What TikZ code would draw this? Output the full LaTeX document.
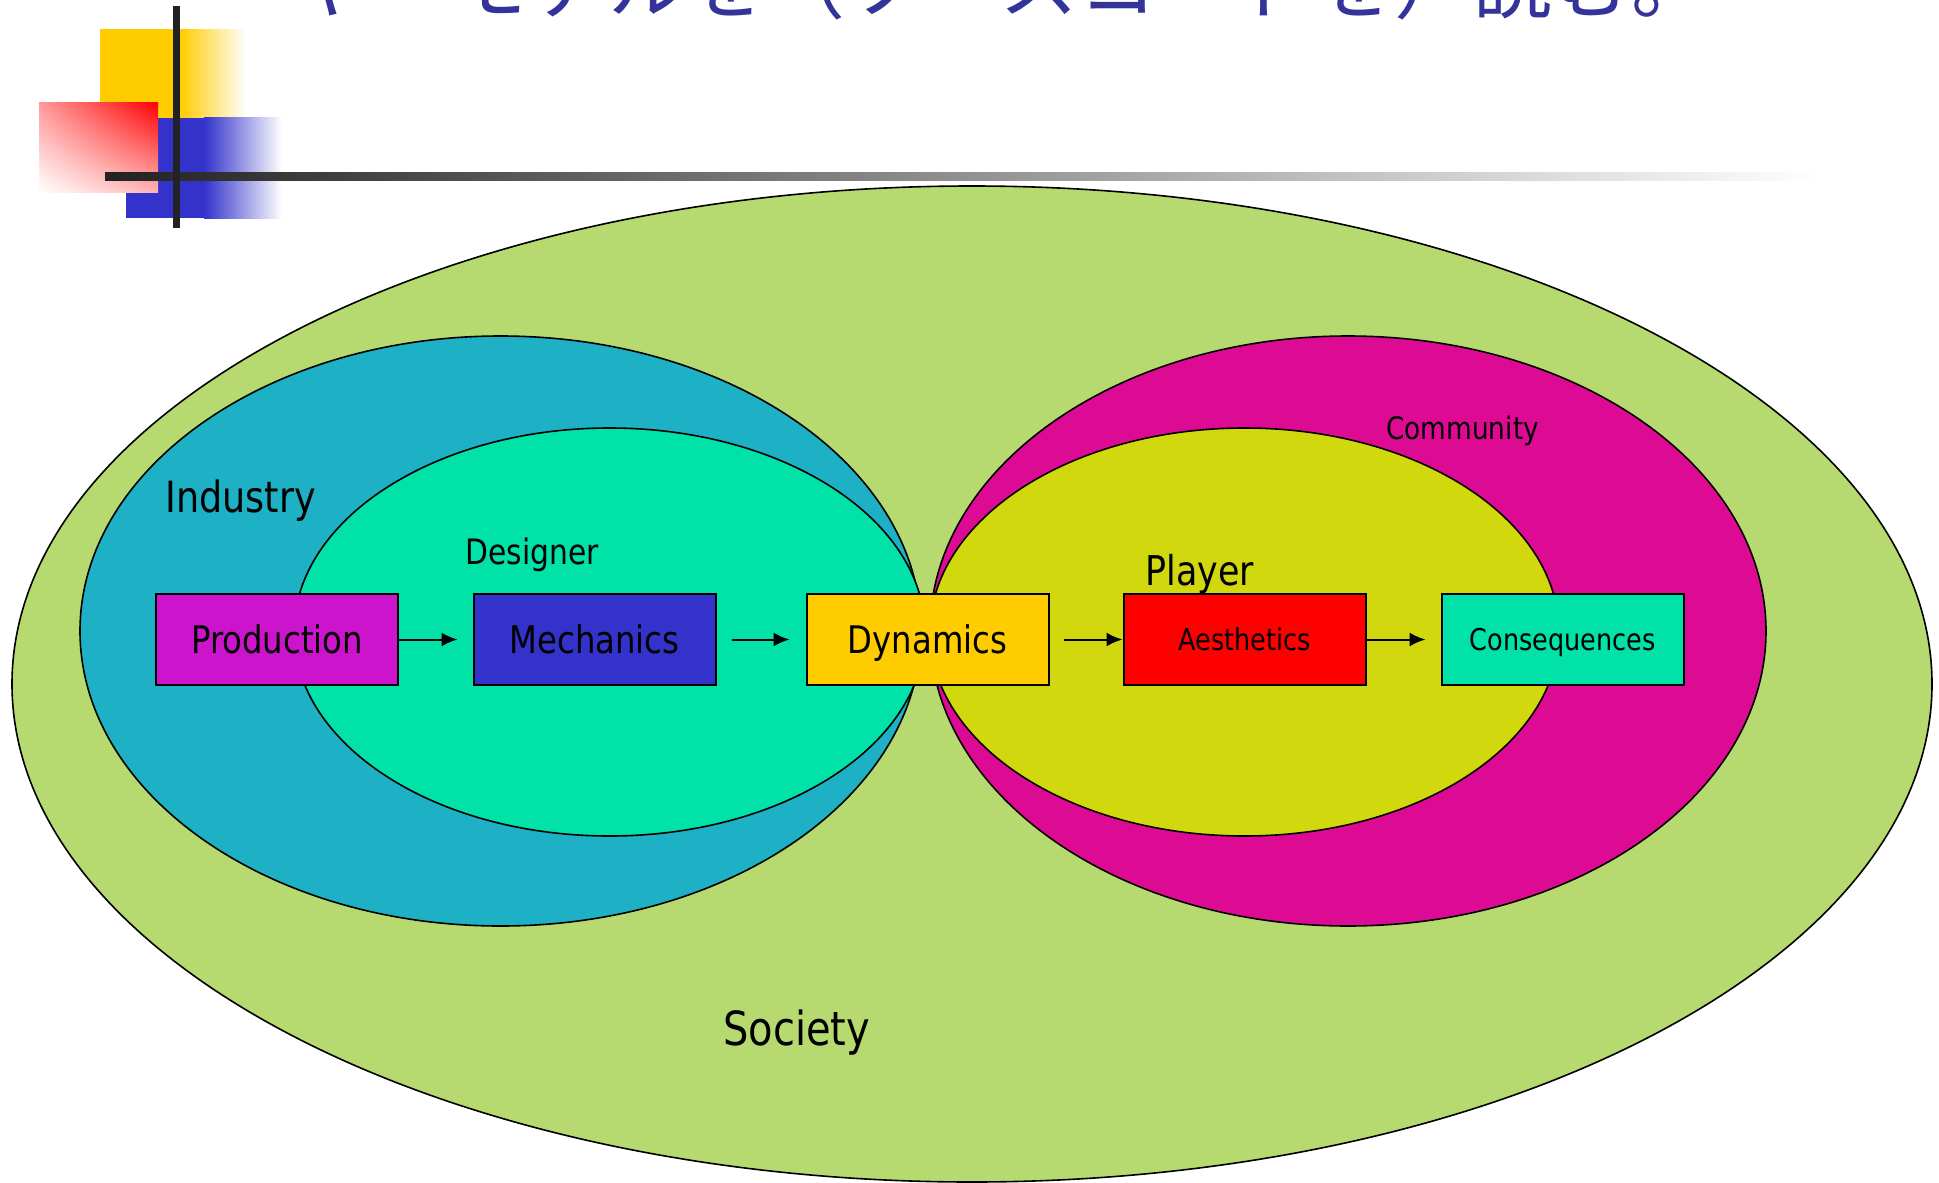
\documentclass[tikz,border=0pt]{standalone}
\usepackage{fontspec}
\setmainfont{DejaVu Sans}[FakeStretch=0.85]
\newfontfamily\jpfont{Noto Sans CJK JP}
\usetikzlibrary{arrows.meta,shadings}
\definecolor{society}{HTML}{B6DA70}
\definecolor{industry}{HTML}{1EB0C5}
\definecolor{designer}{HTML}{00E2A8}
\definecolor{community}{HTML}{DD0A93}
\definecolor{player}{HTML}{D2D80E}
\definecolor{prodc}{HTML}{CC14CC}
\definecolor{mechc}{HTML}{3333CC}
\definecolor{dync}{HTML}{FFCC00}
\definecolor{aesc}{HTML}{FF0000}
\definecolor{titlec}{HTML}{333399}
\definecolor{barc}{HTML}{222222}
\begin{document}
\begin{tikzpicture}[x=0.5pt,y=-0.5pt,
  ring/.style={draw=black,line width=0.8pt},
  mdabox/.style={draw=black,line width=1pt,minimum width=121pt,minimum height=45.5pt,inner sep=0pt,text depth=0pt},
  bigtxt/.style={font=\fontsize{19pt}{19pt}\selectfont,text height=13.85pt},
  smalltxt/.style={font=\fontsize{15pt}{15pt}\selectfont,text height=10.9pt},
  lbl/.style={inner sep=0pt,anchor=base west},
  arr/.style={line width=1pt,-{Latex[length=8pt,width=7pt]}}]
\useasboundingbox (0,0) rectangle (1939,1183);
\fill[white] (0,0) rectangle (1939,1183);
\begin{scope}
\clip (0,0) rectangle (1939,1183);
% title (cut off at top)
\node[lbl,text=titlec,font=\jpfont\fontsize{39.5pt}{40pt}\selectfont] (title) at (292,12) {ヤーモデルを（ソースコードを）読む。};
% decoration
\fill[dync] (100,29) rectangle (181,118);
\shade[left color=dync,right color=white] (180,29) rectangle (246,118);
\fill[mechc] (126,118) rectangle (205,218);
\shade[left color=mechc,right color=white] (204,117) rectangle (282,218);
\shade[upper left=red!40!white,upper right=red,lower left=white,lower right=red!30!white] (39,102) rectangle (158,192);
\shade[left color=barc,right color=white] (105,172) rectangle (1820,180);
\fill[barc] (173,6) rectangle (180,228);
% ellipses
\path[ring,fill=society] (972,684) ellipse [x radius=480pt,y radius=249pt];
\path[ring,fill=industry] (500.5,631) ellipse [x radius=210.25pt,y radius=147.5pt];
\path[ring,fill=designer] (609.5,632) ellipse [x radius=157.75pt,y radius=102pt];
\path[ring,fill=community] (1348,631) ellipse [x radius=209pt,y radius=147.5pt];
\path[ring,fill=player] (1244.5,632) ellipse [x radius=157.25pt,y radius=102pt];
\end{scope}
% labels
\node[lbl,font=\fontsize{21.5pt}{22pt}\selectfont] (industry) at (165,512) {Industry};
\node[lbl,font=\fontsize{17.5pt}{18pt}\selectfont] (designer) at (465,564) {Designer};
\node[lbl,font=\fontsize{15.5pt}{16pt}\selectfont] (community) at (1386,439) {Community};
\node[lbl,font=\fontsize{20.5pt}{21pt}\selectfont] (player) at (1145,585) {Player};
\node[lbl,font=\fontsize{23.5pt}{24pt}\selectfont] (society) at (723,1045) {Society};
% boxes
\node[mdabox,fill=prodc,bigtxt] (prod) at (277,639.5) {Production};
\node[mdabox,fill=mechc,bigtxt] (mech) at (594.5,639.5) {Mechanics};
\node[mdabox,fill=dync,bigtxt] (dyn) at (927.5,639.5) {Dynamics};
\node[mdabox,fill=aesc,smalltxt] (aes) at (1244.5,639.5) {Aesthetics};
\node[mdabox,fill=designer,smalltxt] (cons) at (1562.5,639.5) {Consequences};
% arrows
\draw[arr,shorten >=7.5pt] (prod) -- (mech);
\draw[arr,shorten <=7.5pt,shorten >=8pt] (mech) -- (dyn);
\draw[arr,shorten <=7pt] (dyn) -- (aes);
\draw[arr,shorten >=7.5pt] (aes) -- (cons);
\end{tikzpicture}
\end{document}
